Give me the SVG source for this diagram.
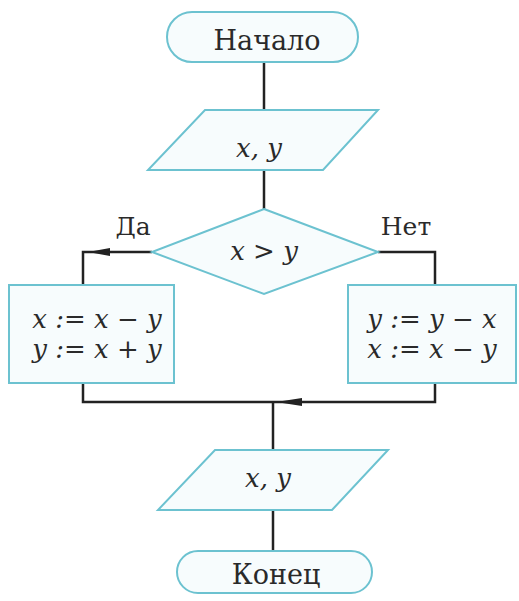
<svg xmlns="http://www.w3.org/2000/svg" width="519" height="601" viewBox="0 0 519 601">
<style>
.shape{fill:#f7fcfd;stroke:#6cc2d0;stroke-width:2}
.line{fill:none;stroke:#222;stroke-width:2.5}
.t{font-family:"DejaVu Serif","Liberation Serif",serif;font-size:27px;fill:#2a2a2a;text-anchor:middle}
.l{font-family:"DejaVu Serif","Liberation Serif",serif;font-size:25px;fill:#2a2a2a;text-anchor:middle}
.m{font-family:"DejaVu Serif","Liberation Serif",serif;font-size:26px;font-style:italic;fill:#2a2a2a;text-anchor:middle}
</style>
<g id="connectors">
<line class="line" x1="264" y1="62" x2="264" y2="110"/>
<line class="line" x1="264" y1="170" x2="264" y2="209"/>
<polyline class="line" points="152,252 83,252 83,285"/>
<path d="M88,252 L110,248 L110,256 Z" fill="#222"/>
<polyline class="line" points="378,252 435,252 435,285"/>
<polyline class="line" points="83,383 83,402 435,402 435,383"/>
<path d="M276,402 L302,398 L302,406 Z" fill="#222"/>
<line class="line" x1="273" y1="402" x2="273" y2="450"/>
<line class="line" x1="273" y1="510" x2="273" y2="551"/>
</g>
<g id="start">
<rect class="shape" x="167" y="12" width="191" height="50" rx="25"/>
<text class="t" x="267" y="50">Начало</text>
</g>
<g id="input">
<polygon class="shape" points="205,110 378,110 323,170 148,170"/>
<text class="m" x="259" y="157">x, y</text>
</g>
<g id="decision">
<polygon class="shape" points="264,209 378,252 264,294 152,252"/>
<text class="m" x="264" y="260">x &gt; y</text>
</g>
<text class="l" x="133" y="235">Да</text>
<text class="l" x="406" y="235">Нет</text>
<g id="yesbox">
<rect class="shape" x="9" y="285" width="165" height="98"/>
<text class="m" x="97" y="328">x := x − y</text>
<text class="m" x="97" y="358">y := x + y</text>
</g>
<g id="nobox">
<rect class="shape" x="348" y="285" width="168" height="98"/>
<text class="m" x="432" y="328">y := y − x</text>
<text class="m" x="432" y="358">x := x − y</text>
</g>
<g id="output">
<polygon class="shape" points="215,450 388,450 332,510 158,510"/>
<text class="m" x="268" y="487">x, y</text>
</g>
<g id="end">
<rect class="shape" x="177" y="551" width="195" height="42" rx="21"/>
<text class="t" x="276" y="584">Конец</text>
</g>
</svg>
